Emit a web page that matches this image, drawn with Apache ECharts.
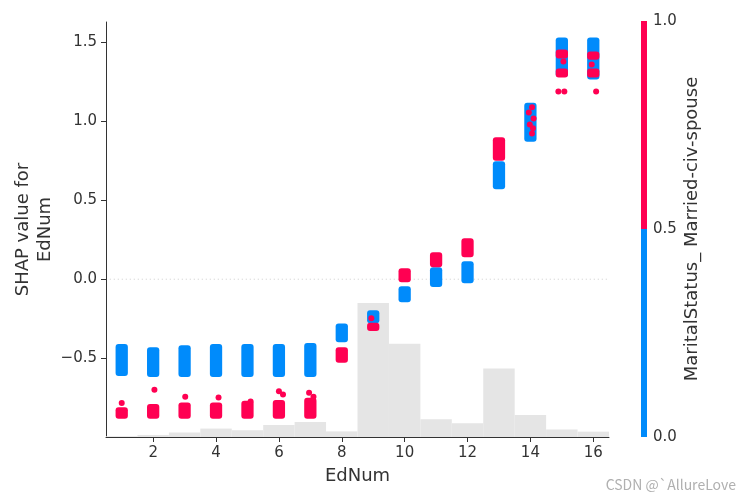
<!DOCTYPE html>
<html>
<head>
<meta charset="utf-8">
<script src="https://cdn.jsdelivr.net/npm/echarts@6/dist/echarts.min.js"></script>
<style>
  html, body { margin: 0; padding: 0; background: #fff; }
  #main { width: 750px; height: 500px; }
</style>
</head>
<body>
<div id="main"></div>
<script>
// EdNum values and how many rows fall in each one (grey histogram)
const edNum = [1, 2, 3, 4, 5, 6, 7, 8, 9, 10, 11, 12, 13, 14, 15, 16];
const histCounts = [60, 160, 350, 660, 520, 940, 1180, 440, 10500, 7300, 1390, 1080, 5370, 1720, 590, 420];

// dense SHAP runs per EdNum, top and bottom point of each run
// blue = MaritalStatus_ Married-civ-spouse 0, red = 1
const blueHigh = [-0.43, -0.45, -0.437, -0.43, -0.43, -0.43, -0.424, -0.30, -0.215, -0.063, 0.057, 0.095, 0.728, 1.10, 1.513, 1.513];
const blueLow = [-0.595, -0.60, -0.60, -0.60, -0.60, -0.60, -0.60, -0.38, -0.26, -0.127, -0.03, -0.006, 0.589, 0.89, 1.30, 1.285];
const redHigh = [-0.83, -0.81, -0.80, -0.80, -0.79, -0.785, -0.77, -0.45, -0.295, 0.05, 0.152, 0.24, 0.88, null, 1.437, 1.424];
const redLow = [-0.865, -0.865, -0.865, -0.865, -0.865, -0.865, -0.865, -0.51, -0.31, 0.0, 0.095, 0.158, 0.77, null, 1.418, 1.41];

// second red run in the mixed columns
const redExtraX = [15, 16];
const redExtraHigh = [1.316, 1.316];
const redExtraLow = [1.297, 1.297];

// loose points: [EdNum + jitter, SHAP value, marital status]
const loosePoints = [
  [1.0, -0.785, 1], [2.04, -0.70, 1], [3.02, -0.745, 1], [4.08, -0.75, 1],
  [5.1, -0.775, 1], [6.0, -0.71, 1], [6.13, -0.73, 1], [6.96, -0.72, 1], [7.1, -0.745, 1],
  [8.94, -0.247, 1],
  [14.05, 1.089, 1], [13.95, 1.057, 1], [14.1, 1.019, 1], [13.98, 0.981, 1], [14.08, 0.956, 1], [14.05, 0.924, 1],
  [15.05, 1.38, 1], [14.89, 1.19, 1], [15.08, 1.19, 1],
  [15.95, 1.36, 1], [16.09, 1.19, 1]
];

// dotted reference line at SHAP = 0, across the x range
const zeroLine = [[0.62, 0], [16.5, 0]];

// colour bar pieces
const cbarLow = [0, 0.5];
const cbarHigh = [0.5, 1];

const xTicks = [2, 4, 6, 8, 10, 12, 14, 16];
const yTicks = [-0.5, 0, 0.5, 1, 1.5];
const cbarTicks = [0, 0.5, 1];

const BLUE = '#008bfb';
const RED = '#ff0052';
const AXIS = '#333333';
const JIT = 0.1;  // half spread of the jitter
const R = 3;      // marker radius

const blueRuns = edNum.map((x, i) => [x, blueLow[i], blueHigh[i]]);
const redRuns = edNum.map((x, i) => [x, redLow[i], redHigh[i]]).filter(d => d[1] != null)
  .concat(redExtraX.map((x, i) => [x, redExtraLow[i], redExtraHigh[i]]));

function runItem(params, api) {
  const x = api.value(0);
  const a = api.coord([x - JIT, api.value(2)]);
  const b = api.coord([x + JIT, api.value(1)]);
  return {
    type: 'rect',
    shape: { x: a[0] - R, y: a[1] - R, width: b[0] - a[0] + 2 * R, height: b[1] - a[1] + 2 * R, r: R },
    style: { fill: api.visual('color') }
  };
}

const fmt = v => v.toFixed(1).replace('-', '\u2212');

const chart = echarts.init(document.getElementById('main'));
chart.setOption({
  animation: false,
  textStyle: { fontFamily: 'DejaVu Sans' },
  graphic: [{
    type: 'text', right: 14, bottom: 8, silent: true,
    style: { text: 'CSDN @`AllureLove', font: '14px "Noto Sans CJK SC", "DejaVu Sans"', fill: '#b0b0b0' }
  }],
  grid: [
    { left: 106, right: 141, top: 22, bottom: 63, containLabel: false, outerBoundsMode: 'none' },
    { left: 641, width: 6, top: 21, bottom: 63, containLabel: false, outerBoundsMode: 'none' }
  ],
  xAxis: [
    {
      type: 'value', gridIndex: 0, min: 0.5, max: 16.5, position: 'bottom',
      name: 'EdNum', nameLocation: 'middle', nameGap: 30, nameMoveOverlap: false,
      nameTextStyle: { fontSize: 18, color: AXIS },
      axisLine: { show: true, onZero: false, lineStyle: { color: AXIS, width: 1 } },
      axisTick: { show: true, length: 5, customValues: xTicks, lineStyle: { color: AXIS } },
      axisLabel: { customValues: xTicks, fontSize: 15, color: AXIS, margin: 9 },
      splitLine: { show: false }
    },
    { type: 'value', gridIndex: 1, min: 0, max: 1, show: false }
  ],
  yAxis: [
    {
      type: 'value', gridIndex: 0, min: -1, max: 1.63, position: 'left',
      name: 'SHAP value for\nEdNum', nameLocation: 'middle', nameGap: 50, nameRotate: 90, nameMoveOverlap: false,
      nameTextStyle: { fontSize: 18, color: AXIS, lineHeight: 22, align: 'center' },
      axisLine: { show: true, onZero: false, lineStyle: { color: AXIS, width: 1 } },
      axisTick: { show: true, length: 5, customValues: yTicks, lineStyle: { color: AXIS } },
      axisLabel: { customValues: yTicks, fontSize: 15, color: AXIS, margin: 9, formatter: fmt },
      splitLine: { show: false }
    },
    { type: 'value', gridIndex: 0, min: 0, max: 32500, show: false },
    {
      type: 'value', gridIndex: 1, position: 'right', min: 0, max: 1,
      name: 'MaritalStatus_ Married-civ-spouse', nameLocation: 'middle', nameGap: 36, nameRotate: 90,
      nameTextStyle: { fontSize: 18, color: AXIS },
      axisLine: { show: false },
      axisTick: { show: false },
      axisLabel: { customValues: cbarTicks, fontSize: 15, color: AXIS, margin: 6, formatter: v => v.toFixed(1) },
      splitLine: { show: false }
    }
  ],
  series: [
    {
      type: 'custom', xAxisIndex: 0, yAxisIndex: 1, z: 1,
      data: edNum.map((x, i) => [x, histCounts[i]]),
      renderItem: (params, api) => {
        const a = api.coord([api.value(0) - 0.5, api.value(1)]);
        const b = api.coord([api.value(0) + 0.5, 0]);
        return { type: 'rect', shape: { x: a[0], y: a[1], width: b[0] - a[0], height: b[1] - a[1] }, style: { fill: '#e5e5e5' } };
      }
    },
    {
      type: 'line', xAxisIndex: 0, yAxisIndex: 0, z: 2, silent: true,
      data: zeroLine, symbol: 'none',
      lineStyle: { type: [1, 3], color: '#cccccc', width: 1 }
    },
    {
      type: 'custom', xAxisIndex: 0, yAxisIndex: 0, z: 3,
      itemStyle: { color: BLUE }, data: blueRuns, renderItem: runItem
    },
    {
      type: 'custom', xAxisIndex: 0, yAxisIndex: 0, z: 3,
      itemStyle: { color: RED }, data: redRuns, renderItem: runItem
    },
    {
      type: 'scatter', xAxisIndex: 0, yAxisIndex: 0, z: 4,
      symbolSize: 6, data: loosePoints,
      itemStyle: { color: p => p.value[2] ? RED : BLUE, opacity: 1 }
    },
    {
      type: 'custom', xAxisIndex: 1, yAxisIndex: 2,
      data: cbarLow.map((lo, i) => [lo, cbarHigh[i], i]),
      renderItem: (params, api) => {
        const a = api.coord([0, api.value(1)]);
        const b = api.coord([1, api.value(0)]);
        return { type: 'rect', shape: { x: a[0], y: a[1], width: b[0] - a[0], height: b[1] - a[1] }, style: { fill: api.value(2) ? RED : BLUE } };
      }
    }
  ]
});
</script>
</body>
</html>
